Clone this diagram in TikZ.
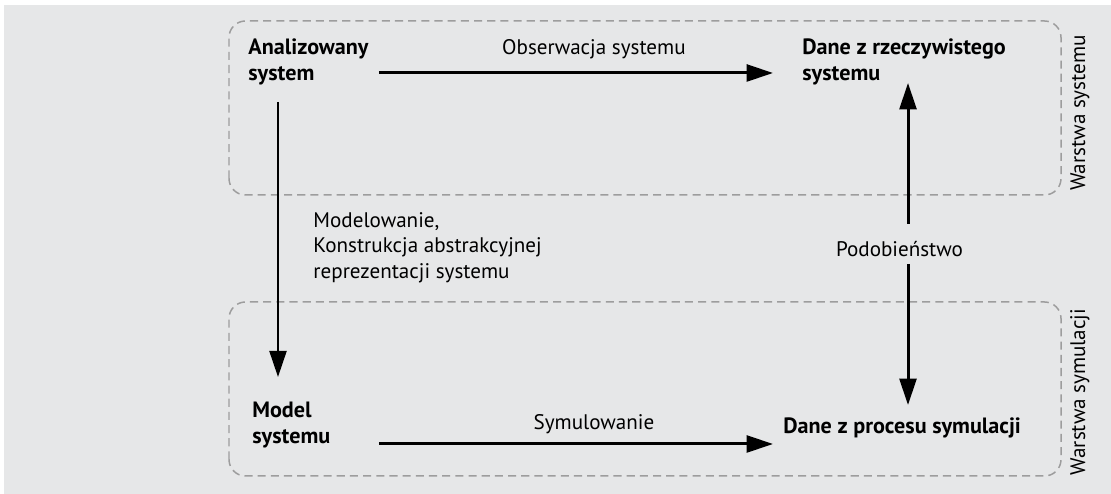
\documentclass[tikz,border=0pt]{standalone}
\usepackage{fontspec}
\setmainfont{PT Sans}
\usetikzlibrary{arrows.meta,calc}
\definecolor{bg_gray}{RGB}{230,231,232}
\definecolor{dash_gray}{RGB}{157,157,157}
\tikzstyle{lbl}=[anchor=west,align=left,inner sep=0pt,
  font=\fontsize{12.6}{14.8}\selectfont\bfseries]
\tikzstyle{txt}=[align=left,inner sep=0pt,font=\fontsize{12}{14.4}\selectfont]
\tikzstyle{layer}=[draw=dash_gray,line width=0.85pt,rounded corners=0.33cm,
  dash pattern=on 4.6pt off 2.9pt]
\tikzstyle{arr}=[line width=1.7pt,-{Triangle[length=15pt,width=9.6pt]}]
\begin{document}
\begin{tikzpicture}
        \useasboundingbox (0,0) rectangle (22.22,9.88);
        \fill [bg_gray] (0.08,0) rectangle (22.22,9.78);
        \draw [style=layer] (4.58,5.98) rectangle (21.22,9.46);
        \draw [style=layer] (4.58,0.36) rectangle (21.22,3.84);
        \node [style=lbl] (sys) at (4.96,8.64) {Analizowany\\system};
        \node [style=lbl] (real) at (16.04,8.64) {Dane z rzeczywistego\\systemu};
        \node [style=lbl] (model) at (5.04,1.37) {Model\\systemu};
        \node [style=lbl] (simdata) at (15.66,1.32) {Dane z procesu symulacji};
        \node [style=txt] (podob) at (17.99,4.89) {Podobieństwo};
        \node [style=txt, rotate=90] (wsys) at (21.6,7.62) {Warstwa systemu};
        \node [style=txt, rotate=90] (wsym) at (21.6,2.04) {Warstwa symulacji};
        \draw [style=arr] ([shift={(0.2,-0.22)}]sys.east) to
          node [style=txt, xshift=0.36cm, yshift=0.47cm] {Obserwacja systemu}
          ([shift={(-0.58,-0.22)}]real.west);
        \draw [style=arr] ($(sys.east |- model.west)+(0.2,-0.37)$) to
          node [style=txt, xshift=0.36cm, yshift=0.39cm] {Symulowanie}
          ($(real.west |- model.west)+(-0.58,-0.37)$);
        \draw [style=arr] ($(sys.south west)+(0.6,-0.33)$) to
          node [style=txt, anchor=west, xshift=0.68cm, yshift=-0.16cm]
          {Modelowanie,\\Konstrukcja abstrakcyjnej\\reprezentacji systemu}
          ($(sys.south west |- model.north west)+(0.6,0.5)$);
        \draw [style=arr] ($(podob.center)+(0.17,0.51)$) to
          ($(podob.center |- real.west)+(0.17,-0.42)$);
        \draw [style=arr] ($(podob.center)+(0.17,-0.29)$) to
          ($(podob.center |- simdata.west)+(0.17,0.46)$);
    \end{tikzpicture}
\end{document}
